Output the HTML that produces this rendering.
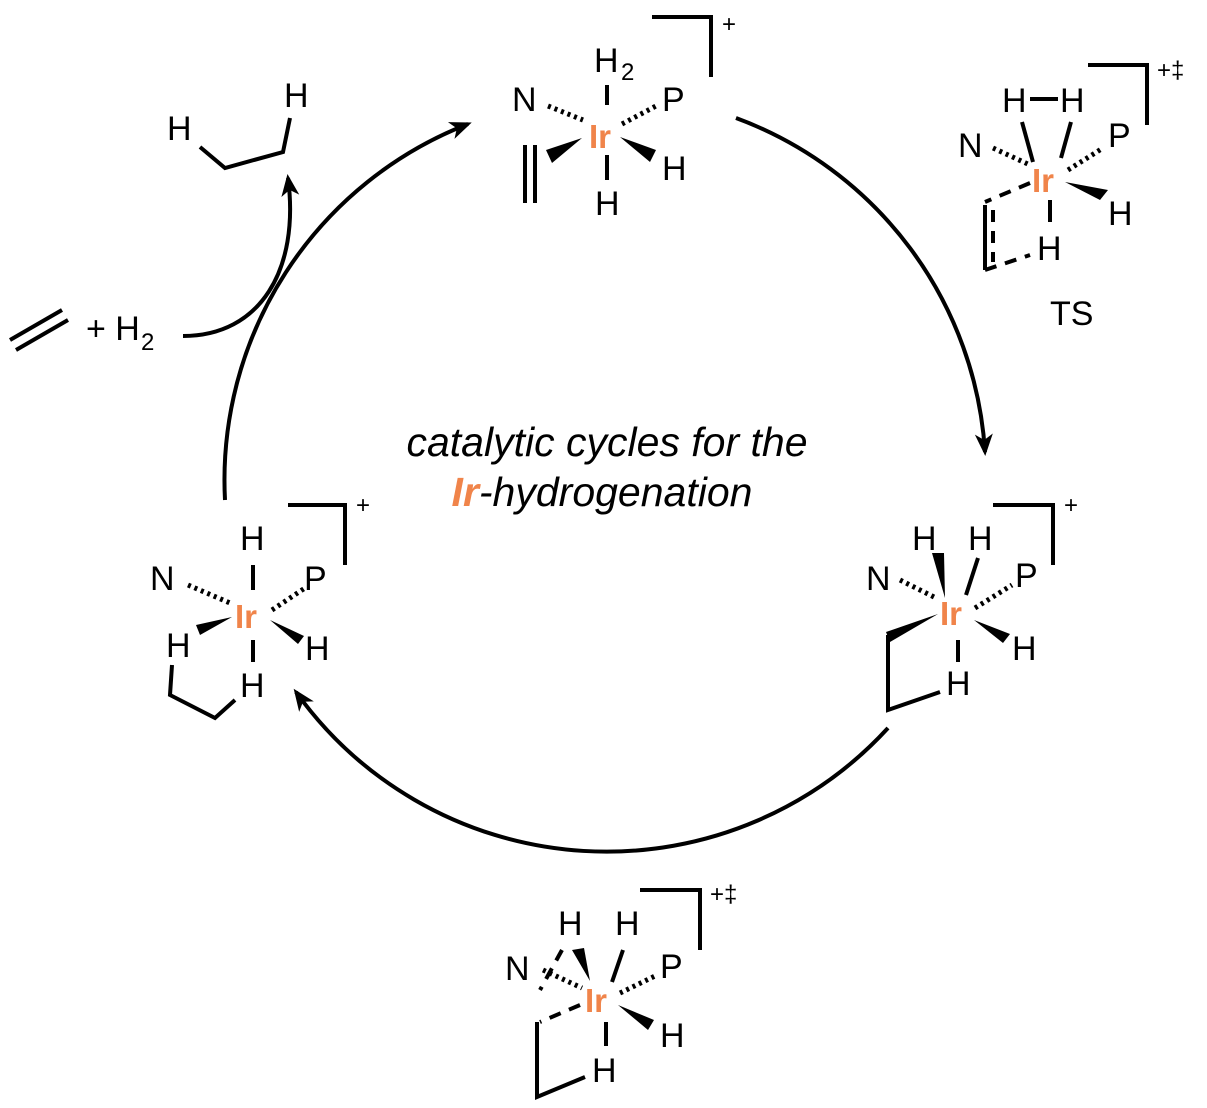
<!DOCTYPE html>
<html><head><meta charset="utf-8"><style>
html,body{margin:0;padding:0;background:#fff}
svg{display:block}
text{font-family:"Liberation Sans",Arial,sans-serif;font-size:34px;fill:#000}
.ir{fill:#F0844A;font-weight:bold;font-size:33px}
.s{font-size:24px}
line,polyline,path{stroke:#000;stroke-width:4;fill:none}
.h{stroke-width:5;stroke-dasharray:3 4}
.d{stroke-dasharray:12 9}
.w{fill:#000;stroke:none}
</style></head><body>
<svg width="1207" height="1108" viewBox="0 0 1207 1108">
<defs>
<marker id="b" markerWidth="22" markerHeight="22" refX="18" refY="11" orient="auto" markerUnits="userSpaceOnUse" viewBox="0 0 22 22"><path d="M0,2 L22,11 L0,20 L6,11z" style="fill:#000;stroke:none"/></marker></defs>

<path d="M225,500 A382,382 0 0 1 468,124" marker-end="url(#b)"/>
<path d="M736,118 A382,382 0 0 1 985,452" marker-end="url(#b)"/>
<path d="M888,728 A382,382 0 0 1 296,692" marker-end="url(#b)"/>

<line x1="10" y1="340" x2="62" y2="310"/><line x1="16" y1="350" x2="68" y2="320"/>
<text x="86" y="340">+ H</text><text x="141" y="350" class="s">2</text>
<path d="M183,336 C260,336 300,270 288,178" marker-end="url(#b)"/>
<text x="167" y="140">H</text><text x="284" y="107">H</text>
<polyline points="200,147 225,168 283,152 290,118"/>

<polyline points="652,17 711,17 711,77"/><text x="722" y="32" class="s">+</text>
<text x="594" y="72">H</text><text x="621" y="80" class="s">2</text>
<line x1="607" y1="85" x2="607" y2="105"/>
<text x="512" y="111">N</text><text x="662" y="111">P</text>
<text x="589" y="148" class="ir">Ir</text>
<line x1="548" y1="106" x2="583" y2="120" class="h"/>
<line x1="622" y1="124" x2="656" y2="106" class="h"/>
<polygon class="w" points="582,138 546,150 552,163"/>
<polygon class="w" points="620,137 656,150 650,162"/>
<line x1="525" y1="145" x2="525" y2="203"/><line x1="535" y1="145" x2="535" y2="203"/>
<text x="662" y="180">H</text>
<line x1="607" y1="155" x2="607" y2="180"/>
<text x="595" y="215">H</text>

<polyline points="1088,65 1147,65 1147,125"/><text x="1157" y="78" class="s">+‡</text>
<text x="1002" y="112">H</text><line x1="1030" y1="99" x2="1058" y2="99"/><text x="1060" y="112">H</text>
<text x="958" y="157">N</text><text x="1108" y="147">P</text>
<text x="1032" y="192" class="ir">Ir</text>
<line x1="1022" y1="122" x2="1033" y2="162"/>
<line x1="1071" y1="122" x2="1061" y2="158"/>
<line x1="993" y1="148" x2="1030" y2="165" class="h"/>
<line x1="1068" y1="170" x2="1103" y2="148" class="h"/>
<polygon class="w" points="1065,182 1100,200 1108,190"/>
<text x="1108" y="225">H</text>
<line x1="1050" y1="200" x2="1050" y2="222"/>
<text x="1037" y="260">H</text>
<line x1="1030" y1="183" x2="985" y2="202" class="d"/>
<line x1="985" y1="205" x2="985" y2="270"/>
<line x1="993" y1="210" x2="993" y2="262" class="d"/>
<polyline points="985,270 1030,255" class="d"/>
<text x="1050" y="325">TS</text>

<text x="607" y="456" text-anchor="middle" font-style="italic" style="font-size:41px">catalytic cycles for the</text>
<text x="602" y="506" text-anchor="middle" font-style="italic" style="font-size:41px"><tspan style="fill:#F0844A;font-weight:bold">Ir</tspan>-hydrogenation</text>

<polyline points="993,505 1053,505 1053,565"/><text x="1064" y="513" class="s">+</text>
<text x="912" y="550">H</text><text x="968" y="550">H</text>
<text x="866" y="590">N</text><text x="1015" y="587">P</text>
<text x="940" y="625" class="ir">Ir</text>
<polygon class="w" points="932,553 944,553 945,598"/>
<line x1="978" y1="558" x2="966" y2="595"/>
<line x1="900" y1="580" x2="936" y2="598" class="h"/>
<line x1="975" y1="608" x2="1012" y2="585" class="h"/>
<polygon class="w" points="974,620 1010,634 1003,643"/>
<text x="1012" y="660">H</text>
<line x1="958" y1="640" x2="958" y2="662"/>
<text x="946" y="695">H</text>
<polygon class="w" points="938,614 886,632 890,642"/>
<polyline points="888,635 888,710 940,692"/>

<polyline points="288,505 345,505 345,565"/><text x="356" y="513" class="s">+</text>
<text x="240" y="550">H</text>
<line x1="253" y1="565" x2="253" y2="590"/>
<text x="150" y="590">N</text><text x="304" y="590">P</text>
<text x="235" y="628" class="ir">Ir</text>
<line x1="188" y1="585" x2="230" y2="603" class="h"/>
<line x1="272" y1="610" x2="305" y2="588" class="h"/>
<polygon class="w" points="232,617 196,625 200,635"/>
<polygon class="w" points="270,620 304,636 298,644"/>
<text x="166" y="657">H</text><text x="305" y="660">H</text>
<line x1="253" y1="640" x2="253" y2="662"/>
<text x="240" y="697">H</text>
<polyline points="172,665 170,695 215,718 235,700"/>

<polyline points="640,890 700,890 700,950"/><text x="710" y="902" class="s">+‡</text>
<text x="558" y="935">H</text><text x="615" y="935">H</text>
<text x="505" y="980">N</text><text x="660" y="978">P</text>
<text x="585" y="1012" class="ir">Ir</text>
<polygon class="w" points="572,950 584,948 590,981"/>
<line x1="623" y1="950" x2="612" y2="982"/>
<line x1="562" y1="950" x2="540" y2="990" class="d"/>
<line x1="543" y1="970" x2="582" y2="988" class="h"/>
<line x1="620" y1="993" x2="655" y2="976" class="h"/>
<polygon class="w" points="618,1005 654,1020 648,1030"/>
<text x="660" y="1047">H</text>
<line x1="606" y1="1022" x2="606" y2="1046"/>
<text x="592" y="1082">H</text>
<line x1="580" y1="1005" x2="540" y2="1022" class="d"/>
<polyline points="537,1022 537,1097 585,1077"/>
</svg>
</body></html>
